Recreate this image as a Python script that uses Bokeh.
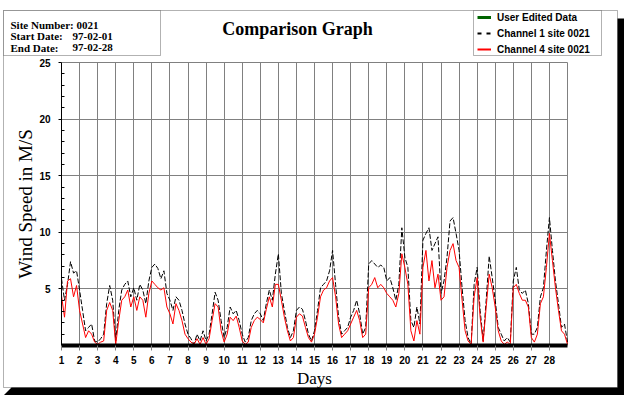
from bokeh.plotting import figure
from bokeh.models import (Range1d, FixedTicker, BoxAnnotation, PolyAnnotation, Label, Legend,
                          LegendItem, LinearAxis, Grid)
from bokeh.embed import file_html
from bokeh.resources import INLINE

# ---------------- data (4-hour steps) ----------------
day_start = 1
samples_per_day = 6
channel1 = [
    5.9, 4.0, 5.4, 7.4, 6.4, 6.6,
    4.9, 3.1, 1.3, 1.6, 1.9, 0.4,
    0.3, 0.6, 1.0, 3.7, 5.3, 4.0,
    0.4, 3.1, 4.9, 5.4, 5.7, 4.3,
    5.1, 4.0, 5.4, 4.9, 3.7, 5.7,
    6.9, 7.2, 6.8, 5.9, 6.6, 4.6,
    4.0, 3.1, 4.3, 4.0, 3.1, 1.9,
    1.0, 0.6, 0.1, 1.0, 0.4, 1.3,
    0.4, 1.0, 2.8, 4.7, 4.0, 2.2,
    0.7, 1.6, 3.4, 2.8, 3.1, 2.2,
    1.0, 0.3, 0.7, 2.2, 2.8, 3.1,
    2.8, 2.2, 3.7, 4.9, 4.0, 6.3,
    8.1, 4.6, 3.1, 1.6, 0.7, 1.3,
    3.1, 3.4, 3.2, 2.2, 1.0, 0.4,
    1.3, 3.1, 5.1, 5.4, 5.7, 6.6,
    8.4, 5.4, 2.5, 1.0, 1.3, 1.6,
    2.5, 3.1, 4.0, 2.8, 1.0, 1.6,
    7.2, 7.5, 7.2, 6.9, 7.1, 6.9,
    5.7, 6.0, 5.1, 4.0, 5.4, 10.4,
    7.8, 6.9, 2.2, 1.6, 3.4, 1.9,
    9.3, 9.9, 10.4, 8.4, 9.0, 9.6,
    4.6, 5.7, 7.8, 11.0, 11.3, 9.9,
    8.4, 5.1, 2.2, 0.7, 0.1, 5.4,
    6.9, 3.1, 0.4, 4.0, 7.9, 6.0,
    4.0, 1.6, 1.0, 0.4, 0.7, 0.3,
    5.7, 6.9, 4.9, 4.6, 4.9, 3.7,
    1.0, 1.0, 1.6, 4.3, 5.1, 8.4,
    11.3, 8.4, 5.7, 3.7, 1.6, 1.9,
    0.3,
]
channel4 = [
    4.4, 2.5, 5.7, 5.9, 4.3, 5.3,
    3.1, 1.9, 0.7, 1.3, 1.0, 0.3,
    0.1, 0.3, 0.4, 3.1, 3.8, 3.1,
    0.1, 2.2, 4.0, 4.3, 4.9, 3.4,
    4.3, 3.1, 4.3, 4.0, 2.5, 4.6,
    5.7, 5.4, 5.1, 4.9, 5.1, 3.4,
    2.8, 1.9, 3.7, 3.1, 2.2, 1.0,
    0.6, 0.3, 0.1, 0.6, 0.1, 0.7,
    0.1, 0.6, 2.2, 3.7, 3.4, 1.3,
    0.3, 1.0, 2.5, 2.2, 2.6, 1.6,
    0.4, 0.1, 0.3, 1.6, 2.2, 2.5,
    2.3, 2.0, 3.2, 4.3, 3.4, 5.4,
    5.4, 4.0, 2.5, 1.3, 0.4, 0.7,
    2.5, 2.8, 2.6, 1.6, 0.7, 0.3,
    1.0, 2.5, 4.3, 4.9, 5.1, 5.7,
    6.0, 4.3, 1.9, 0.7, 1.0, 1.3,
    1.9, 2.5, 3.1, 2.2, 0.7, 1.0,
    5.1, 5.4, 6.0, 5.1, 5.4, 5.1,
    4.6, 4.3, 4.0, 3.4, 4.6, 8.1,
    6.9, 5.4, 1.3, 0.4, 2.2, 1.0,
    6.9, 8.4, 5.7, 7.5, 5.1, 6.3,
    4.0, 4.3, 6.9, 8.4, 9.0, 7.5,
    6.9, 4.0, 1.3, 0.4, 0.1, 4.3,
    6.0, 2.5, 0.3, 3.4, 6.3, 5.1,
    3.4, 1.3, 0.4, 0.1, 0.3, 0.1,
    5.1, 5.4, 4.6, 4.0, 4.0, 3.4,
    0.7, 0.3, 1.0, 3.7, 4.3, 6.9,
    9.9, 7.5, 5.1, 3.1, 1.3, 1.0,
    0.1,
]
days = [day_start + i / samples_per_day for i in range(len(channel1))]
day_ticks = list(range(1, 29))
speed_ticks = [5, 10, 15, 20, 25]
title_text = "Comparison Graph"
info_rows = [("Site Number: 0021", ""), ("Start Date:", "97-02-01"), ("End Date:", "97-02-28")]
legend_names = ["User Edited Data", "Channel 1 site 0021", "Channel 4 site 0021"]

# ---------------- geometry (page pixels) ----------------
W, H = 624, 395
FL, FR, FT, FB = 61, 567, 62, 345          # plot area in page pixels
XMIN, XMAX, YMIN, YMAX = 1, 29, 0, 25      # plot area in data units


def dx(px):
    return XMIN + (px - FL) * (XMAX - XMIN) / (FR - FL)


def dy(py):
    return YMIN + (FB - py) * (YMAX - YMIN) / (FB - FT)


# the frame covers the whole canvas; the ranges are set so that the plot area
# (days 1..29, 0..25 M/S) lands where it is in the reference
p = figure(width=W, height=H, x_range=Range1d(dx(0), dx(W)), y_range=Range1d(dy(H), dy(0)),
           output_backend="svg", toolbar_location=None, title=None,
           x_axis_location=None, y_axis_location=None,
           min_border=0, min_border_left=0, min_border_right=0, min_border_top=0, min_border_bottom=0)
p.styles = {"position": "absolute", "left": "0px", "top": "0px"}
p.background_fill_color = "white"
p.border_fill_color = "white"
p.outline_line_color = None
for g in p.grid:
    g.visible = False

# ---------------- page decorations ----------------
p.add_layout(BoxAnnotation(left=dx(3), right=dx(617), top=dy(10), bottom=dy(387),
                           fill_color="white", fill_alpha=1, line_color="black", line_width=1,
                           level="underlay"))
p.add_layout(BoxAnnotation(left=dx(617), right=dx(624), top=dy(18), bottom=dy(395),
                           fill_color="black", fill_alpha=1, line_alpha=0))
p.add_layout(PolyAnnotation(xs=[dx(3), dx(11), dx(624), dx(624)], ys=[dy(395), dy(387), dy(387), dy(395)],
                            fill_color="black", fill_alpha=1, line_alpha=0))

# ---------------- grid ----------------
xgrid = Grid(dimension=0, ticker=FixedTicker(ticks=list(range(2, 30))))
ygrid = Grid(dimension=1, ticker=FixedTicker(ticks=speed_ticks))
grid_ok = True
try:
    xgrid.cross_bounds = (YMIN, YMAX)
    ygrid.cross_bounds = (XMIN, XMAX)
except Exception:
    grid_ok = False
if grid_ok:
    for g in (xgrid, ygrid):
        g.grid_line_color = "#808080"
        g.grid_line_width = 1
        g.grid_line_alpha = 1
        g.level = "underlay"
        p.add_layout(g)
else:
    gx = list(range(2, 30))
    p.segment(x0=gx, x1=gx, y0=[YMIN] * len(gx), y1=[YMAX] * len(gx), line_color="#808080", line_width=1)
    p.segment(x0=[XMIN] * len(speed_ticks), x1=[XMAX] * len(speed_ticks), y0=speed_ticks, y1=speed_ticks,
              line_color="#808080", line_width=1)

# ---------------- axes (fixed at the plot-area edges) ----------------
xa = LinearAxis(fixed_location=YMIN, bounds=(XMIN, XMAX), ticker=FixedTicker(ticks=day_ticks))
xa.axis_line_color = "black"
xa.axis_line_width = 4
xa.major_tick_line_color = "#808080"
xa.major_tick_out = 5
xa.major_tick_in = 0
xa.minor_tick_line_color = None
xa.major_label_standoff = 5
xa.major_label_text_font = "Liberation Sans"
xa.major_label_text_font_style = "bold"
xa.major_label_text_font_size = "10px"
xa.major_label_text_color = "black"
xa.axis_label = "Days"
xa.axis_label_text_font = "Liberation Serif"
xa.axis_label_text_font_style = "normal"
xa.axis_label_text_font_size = "17px"
xa.axis_label_text_color = "black"
xa.axis_label_standoff = 2
p.add_layout(xa, "below")

ya = LinearAxis(fixed_location=XMIN, bounds=(YMIN, YMAX),
                ticker=FixedTicker(ticks=speed_ticks, minor_ticks=[v for v in range(1, 25) if v % 5]))
ya.axis_line_color = "black"
ya.axis_line_width = 1
ya.major_tick_line_color = "black"
ya.major_tick_out = 3
ya.major_tick_in = 0
ya.minor_tick_line_color = "black"
ya.minor_tick_in = 3
ya.minor_tick_out = 0
ya.major_label_standoff = 8
ya.major_label_text_font = "Liberation Sans"
ya.major_label_text_font_style = "bold"
ya.major_label_text_font_size = "10px"
ya.major_label_text_color = "black"
ya.axis_label = "Wind Speed in M/S"
ya.axis_label_text_font = "Liberation Serif"
ya.axis_label_text_font_style = "normal"
ya.axis_label_text_font_size = "19px"
ya.axis_label_text_color = "black"
ya.axis_label_standoff = 0
p.add_layout(ya, "left")

# info box
p.add_layout(BoxAnnotation(left=dx(3), right=dx(160), top=dy(10), bottom=dy(55),
                           fill_color="white", fill_alpha=1, line_color="black", line_width=1))
# legend box
p.add_layout(BoxAnnotation(left=dx(473), right=dx(601), top=dy(10), bottom=dy(55),
                           fill_color="white", fill_alpha=1, line_color="black", line_width=1))

row_y = [24, 35.5, 47]
for (lab, val), yy in zip(info_rows, row_y):
    p.add_layout(Label(x=dx(10), y=dy(yy), text=lab, text_align="left", text_baseline="middle",
                       text_font="Liberation Serif", text_font_style="bold", text_font_size="11px",
                       text_color="black"))
    if val:
        p.add_layout(Label(x=dx(72), y=dy(yy), text=val, text_align="left", text_baseline="middle",
                           text_font="Liberation Serif", text_font_style="bold", text_font_size="11px",
                           text_color="black"))

p.add_layout(Label(x=dx(297), y=dy(28), text=title_text, text_align="center", text_baseline="middle",
                   text_font="Liberation Serif", text_font_style="bold", text_font_size="18px",
                   text_color="black"))

# ---------------- series ----------------
p.line(days, channel1, line_color="black", line_width=1, line_dash="5 2")
p.line(days, channel4, line_color="#ff0000", line_width=1)

# legend proxies (no visible data of their own)
nan = float("nan")
g_user = p.line([nan], [nan], line_color="#006400", line_width=3)
g_ch1 = p.line([nan], [nan], line_color="black", line_width=2, line_dash="4 5")
g_ch4 = p.line([nan], [nan], line_color="#ff0000", line_width=2)

legend = Legend(items=[LegendItem(label=legend_names[0], renderers=[g_user]),
                       LegendItem(label=legend_names[1], renderers=[g_ch1]),
                       LegendItem(label=legend_names[2], renderers=[g_ch4])],
                location=(473, H - 59), orientation="vertical",
                padding=4, spacing=4, margin=0, glyph_width=14, glyph_height=12,
                label_height=12, label_standoff=6,
                label_text_font="Liberation Sans", label_text_font_style="bold",
                label_text_font_size="10px", label_text_color="black",
                border_line_alpha=0, background_fill_alpha=0)
p.add_layout(legend)

open("out.html", "w").write(file_html(p, INLINE))
